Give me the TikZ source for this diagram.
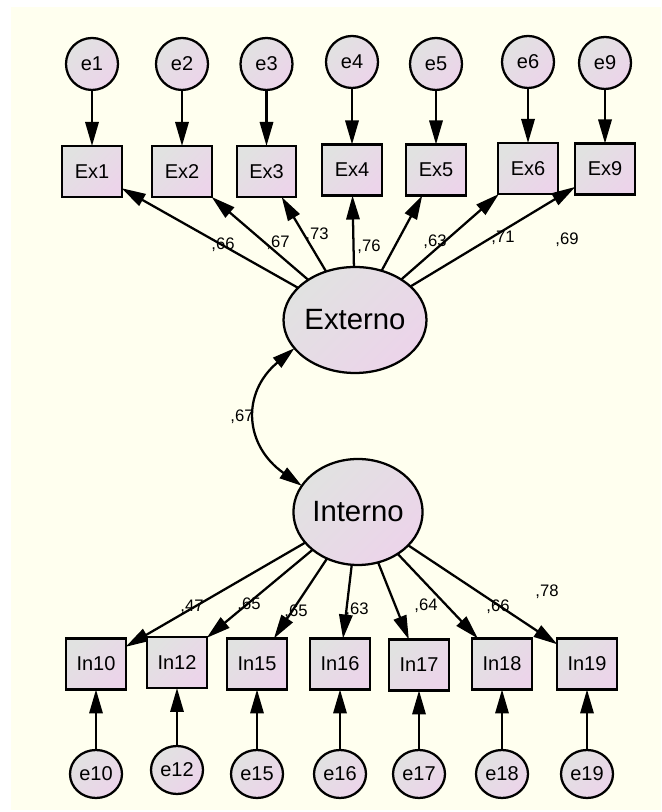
\documentclass[tikz,border=0pt]{standalone}
\usepackage{fontspec}
\setmainfont{Liberation Sans}
\usetikzlibrary{arrows.meta,shapes.geometric}
\definecolor{canvas}{RGB}{255,255,239}
\definecolor{fillA}{RGB}{225,226,225}
\definecolor{fillB}{RGB}{236,212,234}
\tikzset{
  every node/.style={inner sep=0pt, outer sep=0pt},
  shadedvar/.style={draw=black, line width=1.7pt, top color=fillA, bottom color=fillB, shading angle=45},
  errvar/.style={shadedvar, ellipse, minimum width=39pt, minimum height=39pt, font=\fontsize{15}{15}\selectfont},
  lowerr/.style={errvar, minimum height=36pt},
  obsvar/.style={shadedvar, rectangle, minimum width=44.5pt, minimum height=38.25pt, font=\fontsize{15}{15}\selectfont},
  latent/.style={shadedvar, ellipse, minimum width=91.5pt, minimum height=79.5pt, font=\fontsize{22}{22}\selectfont},
  regpath/.style={line width=1.7pt, -{Triangle[length=18pt,width=10pt]}},
  covpath/.style={line width=1.7pt, {Triangle[length=17pt,width=9.5pt]}-{Triangle[length=17pt,width=9.5pt]}},
  coef/.style={font=\fontsize{12.5}{12.5}\selectfont}
}
\begin{document}
\begin{tikzpicture}[x=0.75pt, y=0.75pt]
  \useasboundingbox (0,0) rectangle (661,812);
  \fill[white] (0,0) rectangle (661,812);
  \fill[canvas] (11,2) rectangle (661,805);

  % latent factors
  \node[latent] (ext) at (355,492) {Externo};
  \node[latent] (int) at (358,300) {Interno};

  % external indicators with their errors
  \foreach \n/\x/\y/\ey in {1/92/640.5/748, 2/182/640.5/748, 3/266.5/640.5/748, 4/352/642/750, 5/436/642/748, 6/528/643.5/750, 9/605/643/749}{
    \node[obsvar] (Ex\n) at (\x,\y) {Ex\n};
    \node[errvar] (e\n) at (\x,\ey) {e\n};
    \draw[regpath] (e\n) -- (Ex\n);
    \draw[regpath] (ext) -- (Ex\n);
  }

  % internal indicators with their errors
  \foreach \n/\x/\y/\ey in {10/96/148/38, 12/177/149.5/42, 15/257/148/38, 16/340/148/38, 17/419/147/38, 18/502/148/38, 19/587/148/38}{
    \node[obsvar] (In\n) at (\x,\y) {In\n};
    \node[lowerr] (e\n) at (\x,\ey) {e\n};
    \draw[regpath] (e\n) -- (In\n);
    \draw[regpath] (int) -- (In\n);
  }

  % covariance between factors
  \draw[covpath] (ext.205) to[out=220, in=145, looseness=1.3] (int.155);

  % standardized coefficients
  \node[coef] (c1) at (223,567) {,66};
  \node[coef] (c2) at (278,569) {,67};
  \node[coef] (c3) at (317,577) {,73};
  \node[coef] (c4) at (369,565) {,76};
  \node[coef] (c5) at (435,570) {,63};
  \node[coef] (c6) at (503,574) {,71};
  \node[coef] (c9) at (567,572) {,69};
  \node[coef] (cov) at (242,395) {,67};
  \node[coef] (c10) at (192,205) {,47};
  \node[coef] (c12) at (249,207) {,65};
  \node[coef] (c15) at (296,200) {,65};
  \node[coef] (c16) at (357,202) {,63};
  \node[coef] (c17) at (426,206) {,64};
  \node[coef] (c18) at (498,205) {,66};
  \node[coef] (c19) at (547,220) {,78};
\end{tikzpicture}
\end{document}
